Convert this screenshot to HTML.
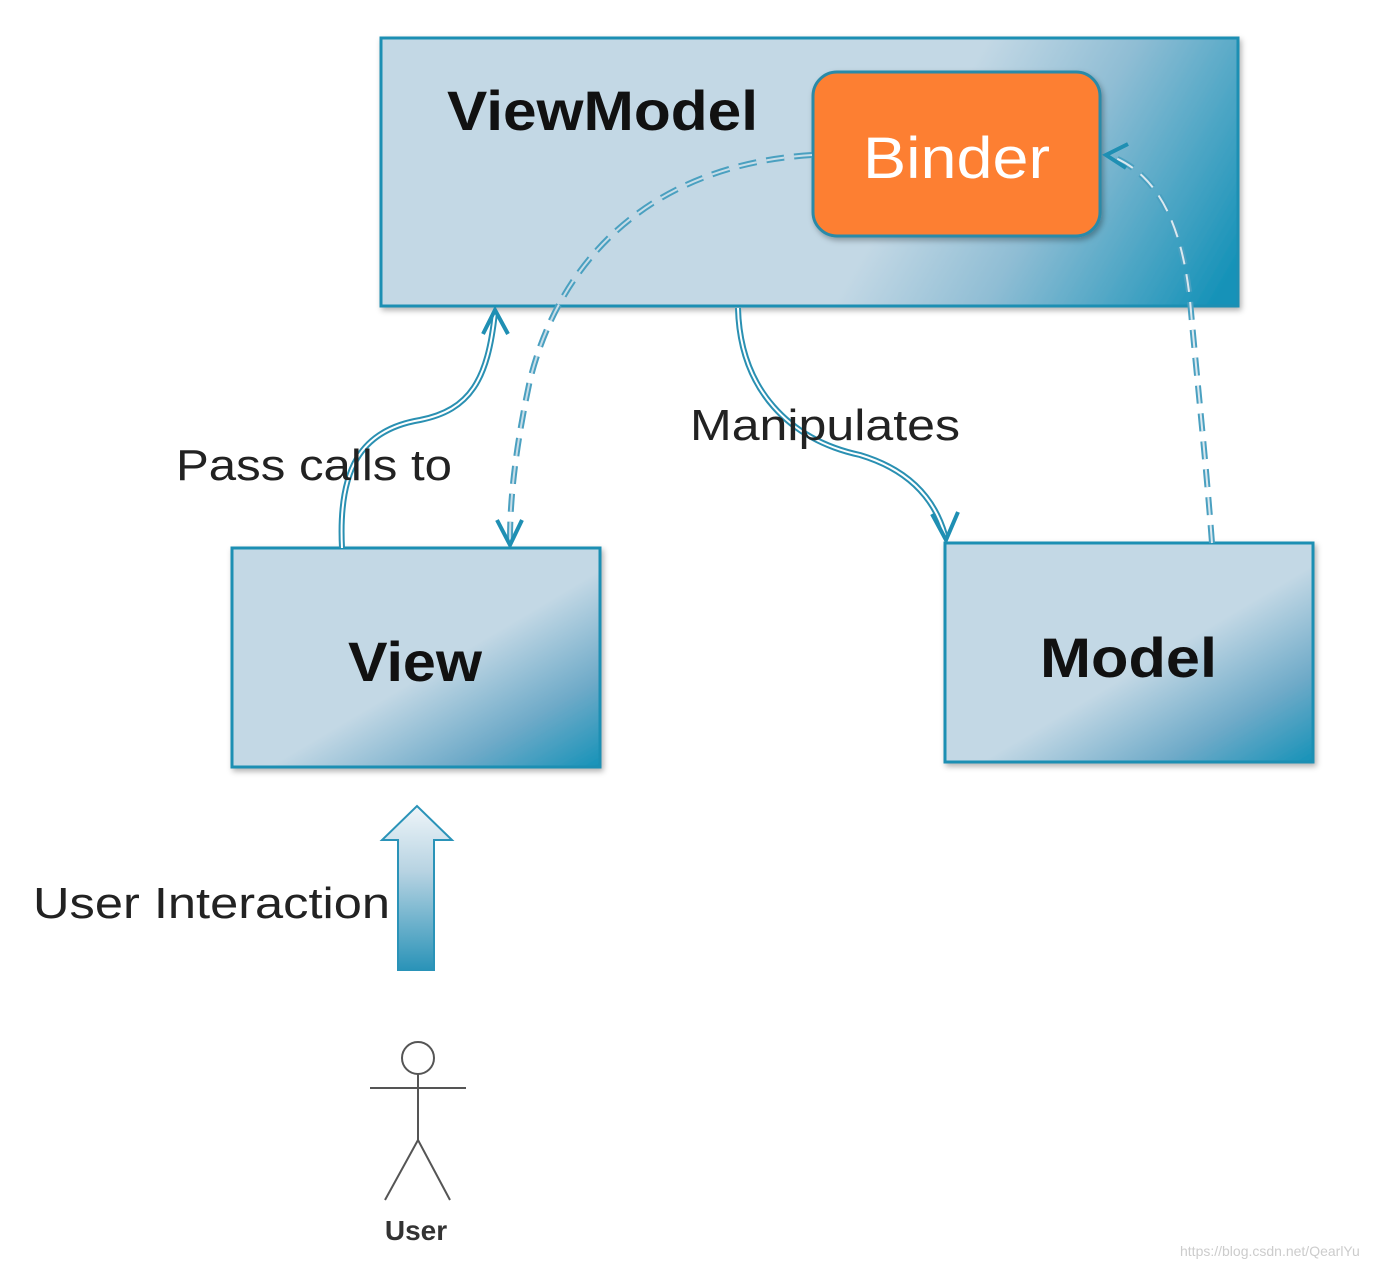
<!DOCTYPE html>
<html><head><meta charset="utf-8"><style>html,body{margin:0;padding:0;background:#fff}</style></head>
<body>
<svg width="1392" height="1268" viewBox="0 0 1392 1268" xmlns="http://www.w3.org/2000/svg" font-family="Liberation Sans, sans-serif">
<defs>
<linearGradient id="g1" gradientUnits="userSpaceOnUse" x1="915" y1="165" x2="1200" y2="330">
<stop offset="0" stop-color="#c3d8e5"/><stop offset="0.4" stop-color="#8fbdd4"/><stop offset="1" stop-color="#1592b8"/>
</linearGradient>
<linearGradient id="g2" x1="0" y1="0" x2="1" y2="1">
<stop offset="0" stop-color="#c3d8e5"/><stop offset="0.55" stop-color="#c3d8e5"/><stop offset="0.8" stop-color="#6eaac8"/><stop offset="1" stop-color="#1592b8"/>
</linearGradient>
<linearGradient id="g3" x1="0" y1="1" x2="0" y2="0">
<stop offset="0" stop-color="#2a93b8"/><stop offset="0.6" stop-color="#b7d3e2"/><stop offset="1" stop-color="#eef5f9"/>
</linearGradient>
<filter id="sh"><feDropShadow dx="2" dy="3" stdDeviation="3" flood-opacity="0.3"/></filter>
</defs>

<rect x="381" y="38" width="857" height="268" fill="url(#g1)" stroke="#1f8fb3" stroke-width="3" filter="url(#sh)"/>
<rect x="813" y="72" width="287" height="164" rx="24" fill="#fd7f30" stroke="#2a8aa8" stroke-width="3" filter="url(#sh)"/>
<rect x="232" y="548" width="368" height="219" fill="url(#g2)" stroke="#1f8fb3" stroke-width="3" filter="url(#sh)"/>
<rect x="945" y="543" width="368" height="219" fill="url(#g2)" stroke="#1f8fb3" stroke-width="3" filter="url(#sh)"/>

<g fill="none" stroke-linecap="butt">
<path d="M342 548 C338 470 360 430 420 420 C470 410 488 380 495 312" stroke="#2a90b2" stroke-width="6"/>
<path d="M342 548 C338 470 360 430 420 420 C470 410 488 380 495 312" stroke="#fff" stroke-width="2"/>
<path d="M738 308 C740 390 790 440 860 455 C910 470 935 500 945 535" stroke="#2a90b2" stroke-width="6"/>
<path d="M738 308 C740 390 790 440 860 455 C910 470 935 500 945 535" stroke="#fff" stroke-width="2"/>
<path d="M812 155 C650 165 560 260 530 380 C515 450 510 500 510 540" stroke="#4aa0c0" stroke-width="6" stroke-dasharray="18 10"/>
<path d="M812 155 C650 165 560 260 530 380 C515 450 510 500 510 540" stroke="#c8dde8" stroke-width="2" stroke-dasharray="18 10"/>
<path d="M1212 543 C1205 450 1195 360 1190 300 C1180 210 1150 170 1108 155" stroke="#4aa0c0" stroke-width="6" stroke-dasharray="18 10"/>
<path d="M1212 543 C1205 450 1195 360 1190 300 C1180 210 1150 170 1108 155" stroke="#dbe8ef" stroke-width="2" stroke-dasharray="18 10"/>
<path d="M483 334 L495 310 L508 334" stroke="#1f8fb3" stroke-width="4"/>
<path d="M497 520 L510 545 L522 520" stroke="#1f8fb3" stroke-width="4"/>
<path d="M932 514 L946 540 L958 512" stroke="#1f8fb3" stroke-width="4"/>
<path d="M1128 144 L1106 155 L1126 168" stroke="#1f8fb3" stroke-width="4"/>
</g>

<path d="M398 970 L398 840 L382 840 L417 806 L452 840 L434 840 L434 970 Z" fill="url(#g3)" stroke="#2a93b8" stroke-width="2"/>

<g stroke="#555" stroke-width="2" fill="none">
<circle cx="418" cy="1058" r="16" fill="#fff"/>
<line x1="370" y1="1088" x2="466" y2="1088"/>
<line x1="418" y1="1074" x2="418" y2="1140"/>
<line x1="418" y1="1140" x2="385" y2="1200"/>
<line x1="418" y1="1140" x2="450" y2="1200"/>
</g>

<text x="447" y="130" font-size="56" font-weight="bold" fill="#111" textLength="311" lengthAdjust="spacingAndGlyphs">ViewModel</text>
<text x="863" y="178" font-size="58" fill="#fff" textLength="187" lengthAdjust="spacingAndGlyphs">Binder</text>
<text x="348" y="681" font-size="56" font-weight="bold" fill="#111" textLength="134" lengthAdjust="spacingAndGlyphs">View</text>
<text x="1040" y="677" font-size="56" font-weight="bold" fill="#111" textLength="177" lengthAdjust="spacingAndGlyphs">Model</text>
<text x="176" y="480" font-size="44" fill="#222" textLength="276" lengthAdjust="spacingAndGlyphs">Pass calls to</text>
<text x="690" y="440" font-size="44" fill="#222" textLength="270" lengthAdjust="spacingAndGlyphs">Manipulates</text>
<text x="33" y="918" font-size="44" fill="#222" textLength="357" lengthAdjust="spacingAndGlyphs">User Interaction</text>
<text x="416" y="1240" font-size="28" font-weight="bold" fill="#333" text-anchor="middle">User</text>
<text x="1180" y="1256" font-size="14" fill="#ccc">https://blog.csdn.net/QearlYu</text>
</svg>
</body></html>
